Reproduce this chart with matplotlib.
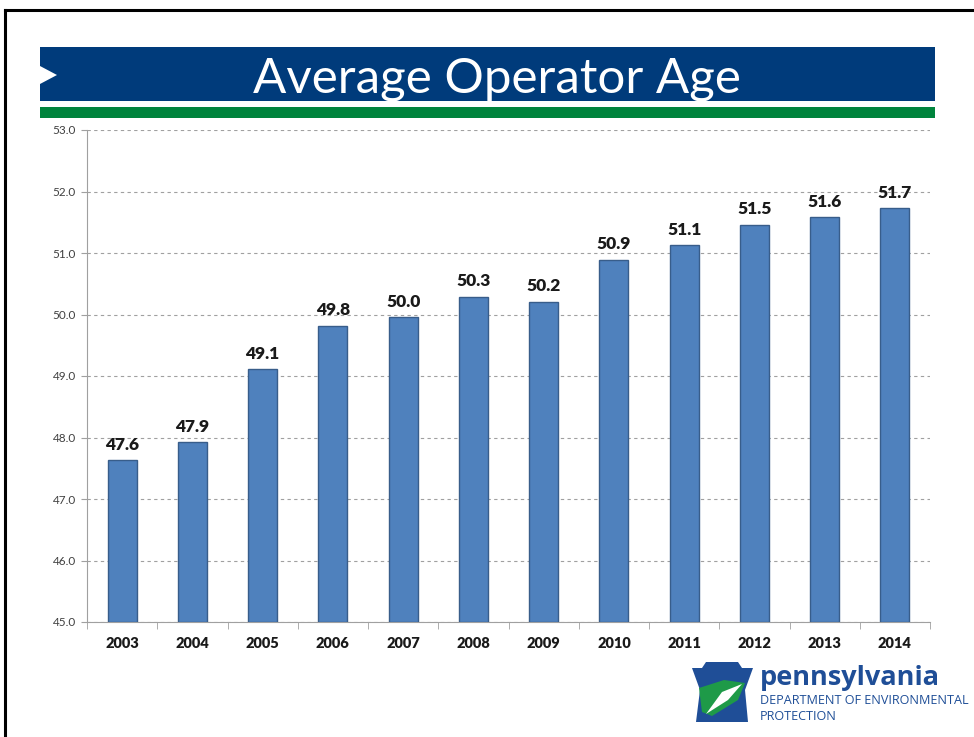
import numpy as np
import matplotlib.pyplot as plt
from matplotlib.patches import Rectangle, Polygon
from matplotlib.lines import Line2D

# =========================================================
# Data
# =========================================================
years = ["2003", "2004", "2005", "2006", "2007", "2008",
         "2009", "2010", "2011", "2012", "2013", "2014"]
avg_age = [47.63, 47.92, 49.11, 49.82, 49.96, 50.29,
           50.21, 50.89, 51.13, 51.46, 51.58, 51.73]
age_labels = ["47.6", "47.9", "49.1", "49.8", "50.0", "50.3",
              "50.2", "50.9", "51.1", "51.5", "51.6", "51.7"]
yticks = [45.0, 46.0, 47.0, 48.0, 49.0, 50.0, 51.0, 52.0, 53.0]

title_font = ["Lato", "DejaVu Sans"]
body_font = ["Lato", "DejaVu Sans"]

# =========================================================
# Figure
# =========================================================
fig = plt.figure(figsize=(9.74, 7.37), dpi=100)
W, H = 974.0, 737.0

def fx(px):
    return px / W

def fy(py):
    return 1 - py / H

# slide frame
fig.add_artist(Line2D([fx(5), fx(5)], [fy(10), 0], color="black", lw=2.2))
fig.add_artist(Line2D([fx(5), 1], [fy(10), fy(10)], color="black", lw=2.2))

# title banner
fig.add_artist(Rectangle((fx(40), fy(101)), fx(935) - fx(40), fy(47) - fy(101),
                         facecolor="#003b7b", edgecolor="none"))
fig.add_artist(Polygon([[fx(40), fy(66)], [fx(57), fy(75)], [fx(40), fy(84)]],
                       closed=True, facecolor="white", edgecolor="none"))
fig.add_artist(Rectangle((fx(40), fy(118)), fx(935) - fx(40), fy(107) - fy(118),
                         facecolor="#00843d", edgecolor="none"))
fig.text(fx(497), fy(79), "Average Operator Age", color="white",
         fontsize=35.5, ha="center", va="center", family=title_font)

# =========================================================
# Bars
# =========================================================
ax = fig.add_axes([fx(87), fy(622), fx(930) - fx(87), fy(130) - fy(622)])
x = np.arange(len(years))
ax.bar(x, [v - 45.0 for v in avg_age], bottom=45.0, width=0.41,
       color="#4f81bd", edgecolor="#385d8a", linewidth=1.0, zorder=3)

for xi, v, lab in zip(x, avg_age, age_labels):
    ax.text(xi, v + 0.12, lab, ha="center", va="bottom", fontsize=12.5,
            fontweight="heavy", color="#1a1a1a", family=body_font)

ax.set_xlim(-0.5, len(years) - 0.5)
ax.set_ylim(45.0, 53.0)
ax.set_yticks(yticks)
ax.set_yticklabels([f"{t:.1f}" for t in yticks], fontsize=8.5,
                   color="#404040", family=body_font)
ax.set_xticks(x)
ax.set_xticklabels(years, fontsize=10.5, fontweight="heavy",
                   color="#1a1a1a", family=body_font)
ax.set_xticks(np.arange(-0.5, len(years)), minor=True)
ax.tick_params(axis="x", which="major", length=0, pad=11)
ax.tick_params(axis="x", which="minor", length=5, color="#a0a0a0", direction="out")
ax.tick_params(axis="y", length=4, color="#a0a0a0", pad=4)

ax.grid(axis="y", linestyle=(0, (3, 3)), color="#a0a0a0", linewidth=0.8, zorder=0)
for s in ["top", "right"]:
    ax.spines[s].set_visible(False)
ax.spines["left"].set_color("#a0a0a0")
ax.spines["bottom"].set_color("#a0a0a0")

# =========================================================
# Logo
# =========================================================
keystone = [[fx(692), fy(668)], [fx(702), fy(668)], [fx(706), fy(662)],
            [fx(738), fy(662)], [fx(742), fy(668)], [fx(753), fy(668)],
            [fx(745), fy(690)], [fx(748), fy(722)], [fx(696), fy(722)],
            [fx(700), fy(690)]]
fig.add_artist(Polygon(keystone, closed=True, facecolor="#1f4e97", edgecolor="none"))
fig.add_artist(Polygon([[fx(699), fy(688)], [fx(724), fy(680)], [fx(745), fy(683)],
                        [fx(738), fy(700)], [fx(712), fy(716)], [fx(702), fy(712)]],
                       closed=True, facecolor="#1e9a48", edgecolor="none"))
fig.add_artist(Polygon([[fx(706), fy(714)], [fx(722), fy(692)], [fx(742), fy(684)],
                        [fx(728), fy(700)]],
                       closed=True, facecolor="white", edgecolor="none"))
fig.text(fx(760), fy(678), "pennsylvania", color="#1f4e97", fontsize=19.5,
         fontweight="bold", ha="left", va="center", family=["Open Sans", "DejaVu Sans"])
fig.text(fx(760), fy(701), "DEPARTMENT OF ENVIRONMENTAL", color="#1f4e97",
         fontsize=9.1, ha="left", va="center", family=["Open Sans", "DejaVu Sans"])
fig.text(fx(760), fy(716), "PROTECTION", color="#1f4e97",
         fontsize=9.1, ha="left", va="center", family=["Open Sans", "DejaVu Sans"])

plt.savefig("out.png", dpi=100)
plt.close()
